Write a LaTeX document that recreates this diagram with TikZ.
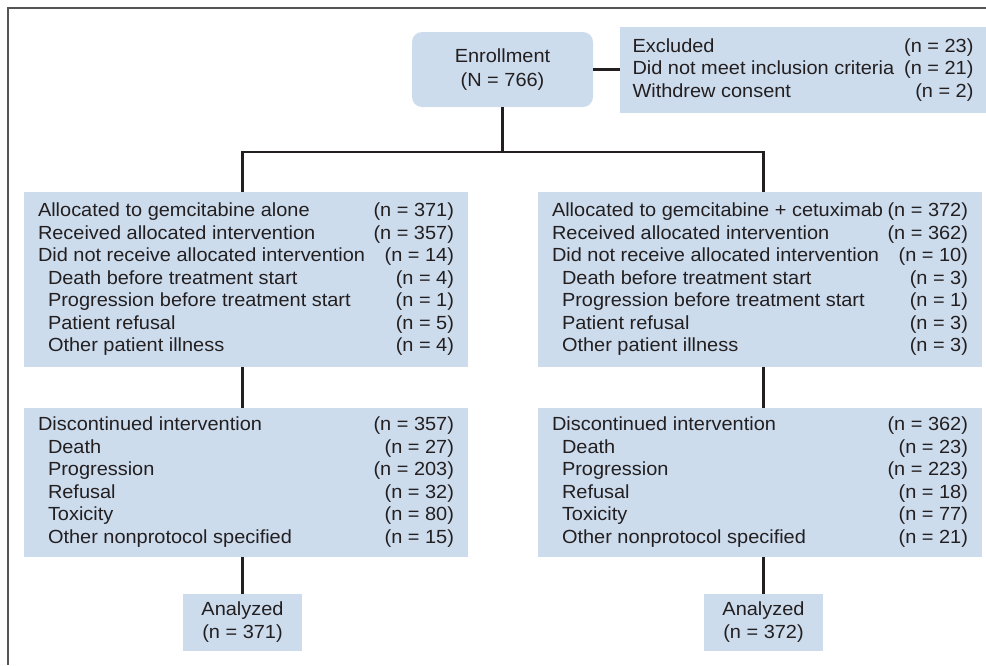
\documentclass[tikz,border=0pt]{standalone}
\usepackage{fontspec}
\setmainfont[FakeStretch=1.05]{Liberation Sans}
\usepackage{tikz}
\usetikzlibrary{calc}

\definecolor{boxblue}{RGB}{204,220,237}
\definecolor{inkgray}{RGB}{35,31,32}
\definecolor{framegray}{RGB}{85,85,85}

% indent for the sub items
\newcommand{\subrow}{\hspace*{10pt}}

\begin{document}
\begin{tikzpicture}[x=1pt, y=-1pt,
        box/.style={fill=boxblue, inner sep=0pt, text=inkgray,
            font=\fontsize{19}{22.5}\selectfont},
        link/.style={draw=inkgray, line width=2.5pt, line join=miter}]
        % Fix the size of the page
        \useasboundingbox (0,0) rectangle (986,665);

        % Define the widths of the columns
        \def\wbox{444}  % width of the arm boxes
        \def\wtab{416}  % width of the text in the arm boxes

        % Draw the frame
        \draw[line width=2pt, draw=framegray] (986,8) -- (8,8) -- (8,665);

        % Draw enrollment and excluded
        \node[box, rounded corners=10pt, minimum width=181, minimum height=75,
            align=center, font=\fontsize{19}{24}\selectfont] (enroll) at (502.5,69.5)
            {Enrollment\\(N = 766)};
        \node[box, minimum width=366, minimum height=86] (excl) at (803,70) {%
            \begin{tabular*}{341pt}{@{}l@{\extracolsep{\fill}}r@{}}
            Excluded & (n = 23)\\
            Did not meet inclusion criteria & (n = 21)\\
            Withdrew consent & (n = 2)
            \end{tabular*}};

        % Draw allocation
        \node[box, minimum width=\wbox, minimum height=175] (alloc1) at (246,279.5) {%
            \begin{tabular*}{\wtab pt}{@{}l@{\extracolsep{\fill}}r@{}}
            Allocated to gemcitabine alone & (n = 371)\\
            Received allocated intervention & (n = 357)\\
            Did not receive allocated intervention & (n = 14)\\
            \subrow Death before treatment start & (n = 4)\\
            \subrow Progression before treatment start & (n = 1)\\
            \subrow Patient refusal & (n = 5)\\
            \subrow Other patient illness & (n = 4)
            \end{tabular*}};
        \node[box, minimum width=\wbox, minimum height=175] (alloc2) at (760,279.5) {%
            \begin{tabular*}{\wtab pt}{@{}l@{\extracolsep{\fill}}r@{}}
            Allocated to gemcitabine + cetuximab & (n = 372)\\
            Received allocated intervention & (n = 362)\\
            Did not receive allocated intervention & (n = 10)\\
            \subrow Death before treatment start & (n = 3)\\
            \subrow Progression before treatment start & (n = 1)\\
            \subrow Patient refusal & (n = 3)\\
            \subrow Other patient illness & (n = 3)
            \end{tabular*}};

        % Draw follow-up
        \node[box, minimum width=\wbox, minimum height=149] (disc1) at (246,482.5) {%
            \begin{tabular*}{\wtab pt}{@{}l@{\extracolsep{\fill}}r@{}}
            Discontinued intervention & (n = 357)\\
            \subrow Death & (n = 27)\\
            \subrow Progression & (n = 203)\\
            \subrow Refusal & (n = 32)\\
            \subrow Toxicity & (n = 80)\\
            \subrow Other nonprotocol specified & (n = 15)
            \end{tabular*}};
        \node[box, minimum width=\wbox, minimum height=149] (disc2) at (760,482.5) {%
            \begin{tabular*}{\wtab pt}{@{}l@{\extracolsep{\fill}}r@{}}
            Discontinued intervention & (n = 362)\\
            \subrow Death & (n = 23)\\
            \subrow Progression & (n = 223)\\
            \subrow Refusal & (n = 18)\\
            \subrow Toxicity & (n = 77)\\
            \subrow Other nonprotocol specified & (n = 21)
            \end{tabular*}};

        % Draw analysis
        \node[box, minimum width=119, minimum height=57, align=center,
            font=\fontsize{19}{23}\selectfont] (anal1) at (242.5,622.5)
            {Analyzed\\(n = 371)};
        \node[box, minimum width=119, minimum height=57, align=center,
            font=\fontsize{19}{23}\selectfont] (anal2) at (763.5,622.5)
            {Analyzed\\(n = 372)};

        % Calculate the split points
        \coordinate (split) at (502.5,152);
        \coordinate (armL) at (anal1 |- split);
        \coordinate (armR) at (anal2 |- split);

        % Draw connectors
        \draw[link] (enroll.east) -- (excl.west |- enroll.east);
        \draw[link] (enroll.south) -- (split);
        \draw[link] (armL |- alloc1.north) -- (armL) -- (armR) -- (armR |- alloc2.north);
        \draw[link] (anal1 |- alloc1.south) -- (anal1 |- disc1.north);
        \draw[link] (anal2 |- alloc2.south) -- (anal2 |- disc2.north);
        \draw[link] (anal1 |- disc1.south) -- (anal1.north);
        \draw[link] (anal2 |- disc2.south) -- (anal2.north);
\end{tikzpicture}
\end{document}
